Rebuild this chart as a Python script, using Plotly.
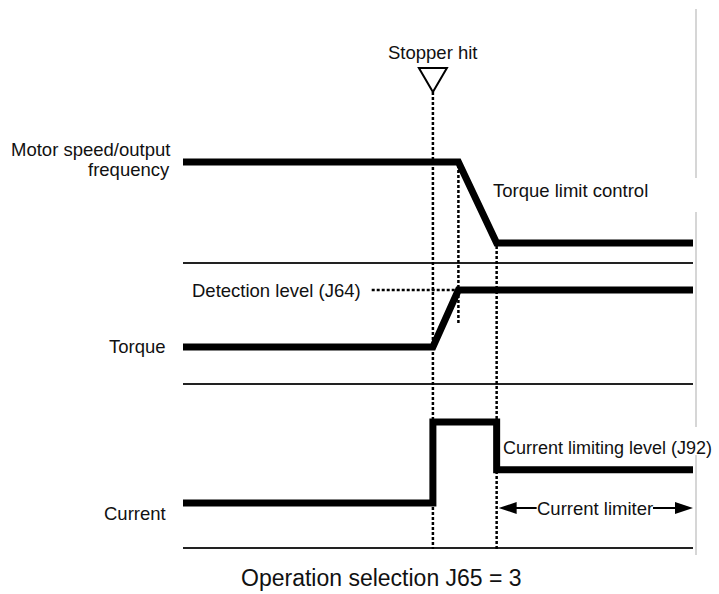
import plotly.graph_objects as go
from plotly.subplots import make_subplots

# event times (arbitrary time units)
t_hit = 49.0      # stopper hit
t_detect = 54.0   # torque reaches detection level
t_limit = 61.5    # speed settles, current limiter starts
t_end = 100.0

speed_t = [0, t_detect, t_limit, t_end]
speed_v = [1, 1, 0, 0]

torque_t = [0, t_hit, t_detect, t_end]
torque_v = [0, 0, 1, 1]

current_t = [0, t_hit, t_hit, t_limit, t_limit, t_end]
current_v = [0, 0, 1, 1, 0.41, 0.41]

detect_line_start = 37.0
detect_level = 1

W, H = 719, 594
FONT = "Liberation Sans, Arial, sans-serif"


def py(p):
    return 1 - p / H


def yrange(top, bot, p0, p1):
    # pixel rows of the lane -> axis range so level 0 sits at p0 and 1 at p1
    u = p0 - p1
    return [-(bot - p0) / u, (p0 - top) / u]


# lane: (top px, bottom px, px of level 0, px of level 1)
lanes = [(100, 262, 243, 162), (262, 383, 347, 290), (383, 547, 503, 422)]

fig = make_subplots(rows=3, cols=1)
for i, (tt, vv) in enumerate([(speed_t, speed_v), (torque_t, torque_v),
                              (current_t, current_v)]):
    fig.add_trace(go.Scatter(x=tt, y=vv, mode='lines', hoverinfo='skip',
                             line=dict(color='black', width=7)), row=i + 1, col=1)

for i, (top, bot, p0, p1) in enumerate(lanes):
    n = '' if i == 0 else str(i + 1)
    fig.layout['xaxis' + n].update(domain=[183 / W, 693 / W], range=[0, t_end],
                                   showline=True, linecolor='#222', linewidth=2,
                                   showgrid=False, zeroline=False,
                                   showticklabels=False, ticks='')
    fig.layout['yaxis' + n].update(domain=[py(bot), py(top)],
                                   range=yrange(top, bot, p0, p1), visible=False)

dot = dict(color='black', width=2.5, dash='3px,2px')
shapes = [
    dict(type='line', xref='x', yref='paper', x0=t_hit, x1=t_hit,
         y0=py(92), y1=py(549), line=dot),
    dict(type='line', xref='x', yref='paper', x0=t_detect, x1=t_detect,
         y0=py(165), y1=py(323), line=dot),
    dict(type='line', xref='x', yref='paper', x0=t_limit, x1=t_limit,
         y0=py(246), y1=py(549), line=dot),
    dict(type='line', xref='x2', yref='y2', x0=detect_line_start, x1=t_detect,
         y0=detect_level, y1=detect_level, line=dot),
    # stopper hit marker
    dict(type='path', xref='x', yref='paper', xsizemode='pixel', ysizemode='pixel',
         xanchor=t_hit, yanchor=py(92), path='M0,0 L-14,24 L14,24 Z',
         line=dict(color='black', width=2), fillcolor='white'),
    # current limiter arrows
    dict(type='path', xref='x3', yref='paper', xsizemode='pixel', ysizemode='pixel',
         xanchor=t_limit, yanchor=py(508),
         path='M2,0 L20,6 L20,1 L40,1 L40,-1 L20,-1 L20,-6 Z',
         line=dict(width=0), fillcolor='black'),
    dict(type='path', xref='x3', yref='paper', xsizemode='pixel', ysizemode='pixel',
         xanchor=t_end, yanchor=py(508),
         path='M0,0 L-18,6 L-18,1 L-40,1 L-40,-1 L-18,-1 L-18,-6 Z',
         line=dict(width=0), fillcolor='black'),
]
for a, b in [(9, 178), (212, 427), (455, 555)]:
    shapes.append(dict(type='line', xref='paper', yref='paper', x0=696 / W, x1=696 / W,
                       y0=py(a), y1=py(b), line=dict(color='#c8c8c8', width=1.5)))


def label(text, x, y, anchor='left', size=18.5):
    return dict(text=text, x=x / W, y=py(y), xref='paper', yref='paper',
                xanchor=anchor, yanchor='middle', showarrow=False,
                font=dict(size=size, color='#111', family=FONT))


annotations = [
    label('Stopper hit', 432, 52, 'center'),
    label('Motor speed/output', 172, 149, 'right'),
    label('frequency', 172, 170, 'right'),
    label('Torque limit control', 491, 190),
    label('Detection level (J64)', 363, 291, 'right'),
    label('Torque', 168, 347, 'right'),
    label('Current', 168, 513, 'right'),
    label('Current limiting level (J92)', 501, 448, size=18),
    label('Current limiter', 595, 508, 'center'),
    label('Operation selection J65 = 3', 381, 578, 'center', 23),
]

fig.update_layout(width=W, height=H, margin=dict(l=0, r=0, t=0, b=0),
                  paper_bgcolor='white', plot_bgcolor='white', showlegend=False,
                  shapes=shapes, annotations=annotations)
fig.write_html("out.html", config={'displayModeBar': False},
               post_script="document.body.style.margin='0';")
